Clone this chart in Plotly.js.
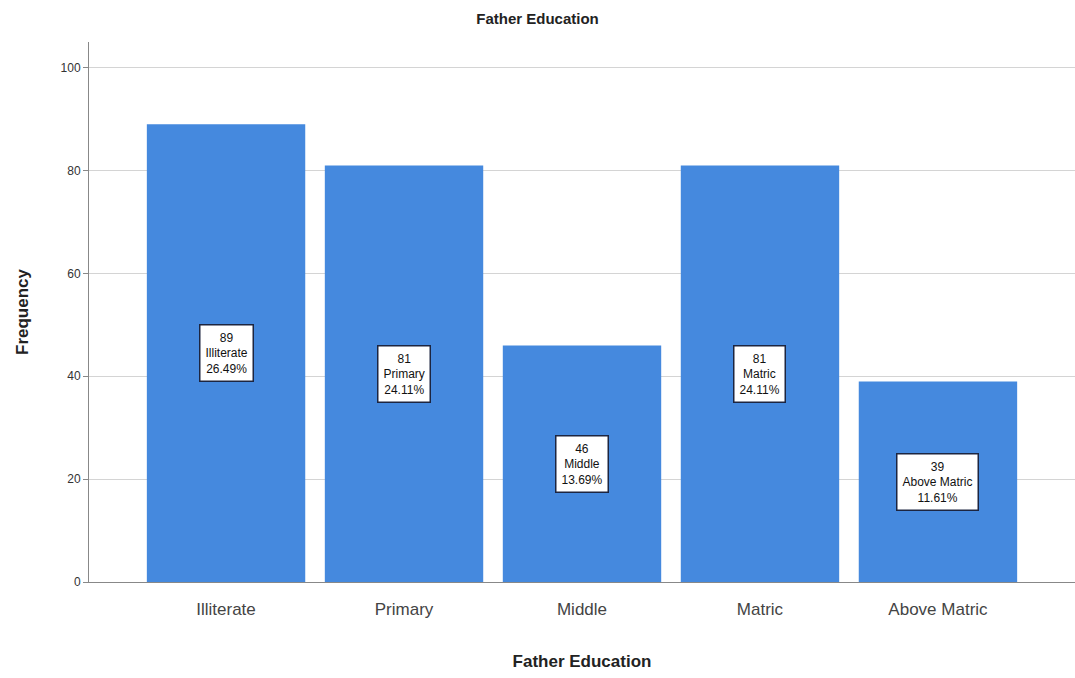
<!DOCTYPE html>
<html><head><meta charset="utf-8">
<script src="https://cdn.plot.ly/plotly-3.0.1.min.js"></script>
<style>html,body{margin:0;padding:0;background:#fff}#chart{width:1075px;height:678px}</style>
</head><body><div id="chart"></div>
<script>
const categories = ["Illiterate", "Primary", "Middle", "Matric", "Above Matric"];
const frequencies = [89, 81, 46, 81, 39];
const percents = ["26.49%", "24.11%", "13.69%", "24.11%", "11.61%"];
const yTicks = [0, 20, 40, 60, 80, 100];

const trace = {
  type: "bar", x: categories, y: frequencies,
  width: 0.89,
  marker: {color: "#4589de", line: {width: 0}},
  hoverinfo: "none"
};

const annotations = categories.map((c, i) => ({
  x: c, y: frequencies[i] / 2, xref: "x", yref: "y",
  text: frequencies[i] + "<br>" + c + "<br>" + percents[i],
  showarrow: false,
  font: {family: "Liberation Sans, Arial", size: 12, color: "#111"},
  bgcolor: "#ffffff", bordercolor: "#1c2540", borderwidth: 1.5, borderpad: 5
}));

const layout = {
  width: 1075, height: 678,
  margin: {l: 89, r: 0, t: 42, b: 96},
  paper_bgcolor: "#fff", plot_bgcolor: "#fff",
  title: {text: "<b>Father Education</b>", x: 0.5, xanchor: "center", y: 0.972, yanchor: "middle",
          font: {family: "Liberation Sans, Arial", size: 15, color: "#222"}},
  xaxis: {
    range: [-0.77, 4.77], showgrid: false, showline: true, linecolor: "#888", linewidth: 1,
    ticks: "", ticklabelstandoff: 12, tickfont: {family: "Liberation Sans, Arial", size: 17, color: "#444"},
    title: {text: "<b>Father Education</b>", standoff: 36, font: {family: "Liberation Sans, Arial", size: 17, color: "#222"}},
    fixedrange: true
  },
  yaxis: {
    range: [0, 105], tickvals: yTicks, showgrid: true, gridcolor: "#d4d4d4", gridwidth: 1,
    showline: true, linecolor: "#888", linewidth: 1, zeroline: false,
    ticks: "outside", ticklen: 5, tickcolor: "#888",
    tickfont: {family: "Liberation Sans, Arial", size: 12, color: "#333"},
    title: {text: "<b>Frequency</b>", standoff: 27, font: {family: "Liberation Sans, Arial", size: 17, color: "#222"}},
    fixedrange: true
  },
  annotations: annotations,
  showlegend: false
};

Plotly.newPlot("chart", [trace], layout, {displayModeBar: false, staticPlot: true});
</script></body></html>
